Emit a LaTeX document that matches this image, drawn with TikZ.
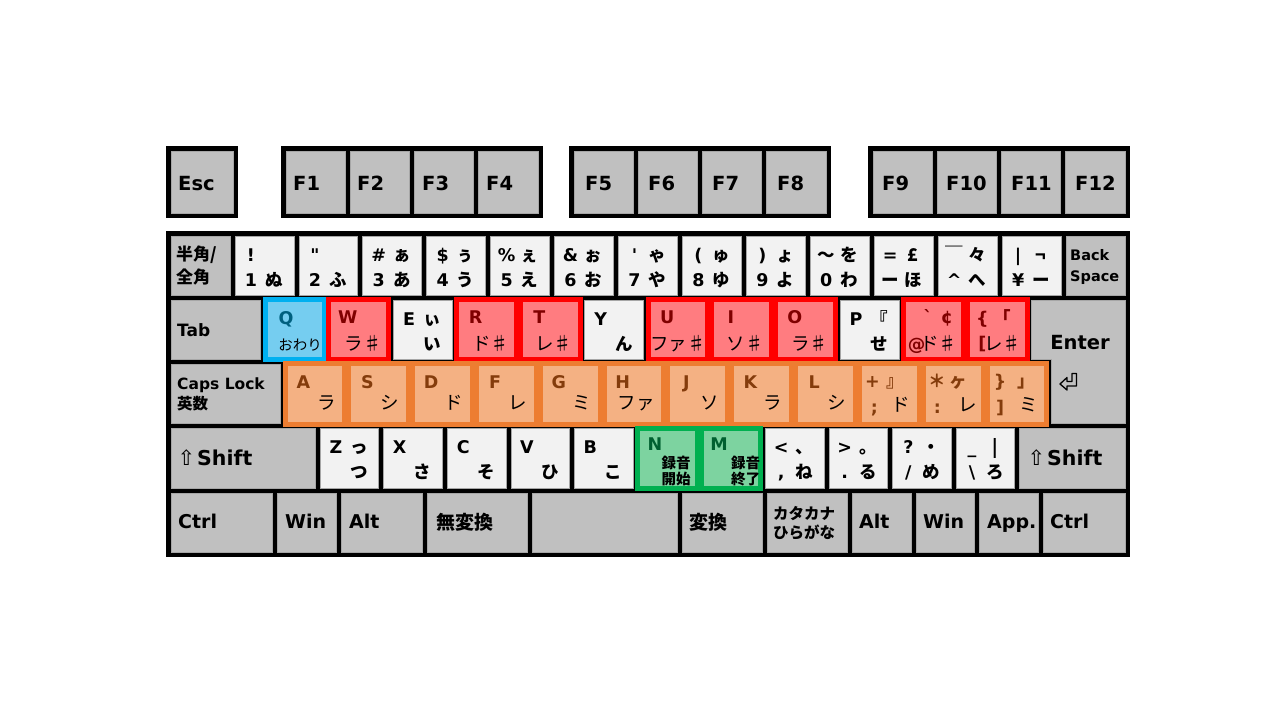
\documentclass[tikz,border=0pt]{standalone}
\usepackage{fontspec}
\setmainfont{DejaVu Sans}
\newfontfamily\lat{DejaVu Sans}
\newfontfamily\jp{Noto Sans CJK JP}
\usetikzlibrary{calc}
\definecolor{kgray}{HTML}{C0C0C0}
\definecolor{kwhite}{HTML}{F2F2F2}
\definecolor{kedge}{HTML}{A6A6A6}
\definecolor{rfill}{HTML}{FF7C80}
\definecolor{rline}{HTML}{FF0000}
\definecolor{rtext}{HTML}{800000}
\definecolor{bfill}{HTML}{75CDF0}
\definecolor{bline}{HTML}{00B0F0}
\definecolor{btext}{HTML}{00607F}
\definecolor{ofill}{HTML}{F4B183}
\definecolor{oline}{HTML}{ED7D31}
\definecolor{otext}{HTML}{843C0C}
\definecolor{gfill}{HTML}{7DD3A0}
\definecolor{gline}{HTML}{00B050}
\definecolor{gtext}{HTML}{006030}
\tikzset{
  keyb/.style={rectangle, anchor=north west, inner sep=0pt, outer sep=0pt, draw=kedge, line width=0.6pt, minimum height=59.2},
  ckey/.style={rectangle, anchor=north west, inner sep=0pt, outer sep=0pt, line width=5pt, minimum height=60.2},
  lbl/.style={inner sep=0pt, text height=13pt, text depth=0pt, font=\lat\bfseries\fontsize{17.5}{20}\selectfont},
  jl/.style={inner sep=0pt, text height=13pt, text depth=0pt, font=\jp\bfseries\fontsize{17.5}{20}\selectfont},
  kana/.style={inner sep=0pt, text height=13.7pt, text depth=0pt, font=\jp\fontsize{18.5}{20}\selectfont},
  big/.style={inner sep=0pt, text height=14.3pt, text depth=0pt, font=\lat\bfseries\fontsize{19.5}{22}\selectfont},
  sym/.style={inner sep=0pt, text height=14pt, text depth=0pt, font=\lat\fontsize{21}{22}\selectfont},
}
\newcommand\lb[6][lbl]{\node[#1] (#2#3) at ([shift={(#4,#5)}]#2.north west) {#6};}
\newcommand\four[5]{%
 \if\relax\detokenize{#2}\relax\else\lb{#1}{a}{16}{18.5}{#2}\fi
 \if\relax\detokenize{#3}\relax\else\lb[jl]{#1}{b}{39}{18.5}{#3}\fi
 \if\relax\detokenize{#4}\relax\else\lb{#1}{c}{16}{43.5}{#4}\fi
 \if\relax\detokenize{#5}\relax\else\lb[jl]{#1}{d}{39}{43.5}{#5}\fi}
\begin{document}
\begin{tikzpicture}[x=1pt,y=-1pt]
\useasboundingbox (0,0) rectangle (1280,720);
\fill[white] (0,0) rectangle (1280,720);
% frames
\fill[black] (166,146) rectangle (238,218);
\fill[black] (281,146) rectangle (543,218);
\fill[black] (569,146) rectangle (831,218);
\fill[black] (868,146) rectangle (1130,218);
\fill[black] (166,231) rectangle (1130,557);
% function row
\node[keyb, fill=kgray, minimum width=62, minimum height=62] (esc) at (171,151) {};
\foreach \g/\s in {281/0,569/4,868/8}{
  \foreach \j in {0,...,3}{
    \pgfmathtruncatemacro\nn{\s+\j+1}
    \node[keyb, fill=kgray, minimum width=59.25, minimum height=62] (f\nn) at ({\g+5+64.25*\j},151) {};
  }
}
\node[big, anchor=west] (escl) at (178,183) {Esc};
\foreach \nn/\xx in {1/293,2/357,3/422,4/486,5/585,6/648,7/712,8/777,9/882,10/946,11/1011,12/1075}{
  \node[big, anchor=west] (fl\nn) at (\xx,183) {F\nn};
}
% row 1
\foreach \k/\c in {0/kgray,1/kwhite,2/kwhite,3/kwhite,4/kwhite,5/kwhite,6/kwhite,7/kwhite,8/kwhite,9/kwhite,10/kwhite,11/kwhite,12/kwhite,13/kwhite,14/kgray}{
  \node[keyb, fill=\c, minimum width=58.93] (n\k) at ({168.5+63.93*\k+2.5},236) {};
}
% row 2 plain
\node[keyb, fill=kgray, minimum width=89.5] (tab) at (171,300.2) {};
\foreach \k in {2,5,9}{
  \node[keyb, fill=kwhite, minimum width=58.85] (q\k) at ({263+63.85*\k+2.5},300.2) {};
}
\path[fill=kgray, draw=kedge, line width=0.6pt] (1031.7,300.2) -- (1125,300.2) -- (1125,423.6) -- (1051.5,423.6) -- (1051.5,359.4) -- (1031.7,359.4) -- cycle;
% row 3 plain
\node[keyb, fill=kgray, minimum width=109.5] (caps) at (171,364.4) {};
% row 4 plain
\node[keyb, fill=kgray, minimum width=144] (lsh) at (171,428.6) {};
\foreach \k in {0,1,2,3,4,7,8,9,10}{
  \node[keyb, fill=kwhite, minimum width=58.6] (z\k) at ({317.5+63.6*\k+2.5},428.6) {};
}
\node[keyb, fill=kgray, minimum width=105.4] (rsh) at (1019.6,428.6) {};
% row 5
\foreach \k/\a/\b in {0/168.5/275,1/275/339,2/339/424.5,3/424.5/529.5,4/529.5/680,5/680/764.5,6/764.5/850,7/850/914,8/914/977,9/977/1040.5,10/1040.5/1127.5}{
  \node[keyb, fill=kgray, minimum width={\b-\a-5}] (b\k) at ({\a+2.5},492.8) {};
}
% coloured keys
\node[ckey, fill=bfill, draw=bline, minimum width=59.85] (q0) at (265,299.7) {};
\foreach \k in {1,3,4,6,7,8,10,11}{
  \node[ckey, fill=rfill, draw=rline, minimum width=59.85] (q\k) at ({263+63.85*\k+2},299.7) {};
}
\foreach \k in {0,...,11}{
  \node[ckey, fill=ofill, draw=oline, minimum width=59.83] (a\k) at ({285+63.83*\k},363.9) {};
}
\foreach \k in {5,6}{
  \node[ckey, fill=gfill, draw=gline, minimum width=59.6] (z\k) at ({319.5+63.6*\k},428.1) {};
}
% ---------- labels row 1
\node[inner sep=0pt, align=left, anchor=west, font=\jp\bfseries\fontsize{17}{23}\selectfont] (n0t) at (176,265.5) {半角/\\全角};
\four{n1}{!}{}{1}{ぬ}
\four{n2}{"}{}{2}{ふ}
\four{n3}{\#}{ぁ}{3}{あ}
\four{n4}{\$}{ぅ}{4}{う}
\four{n5}{\%}{ぇ}{5}{え}
\four{n6}{\&}{ぉ}{6}{お}
\four{n7}{'}{ゃ}{7}{や}
\four{n8}{(}{ゅ}{8}{ゆ}
\four{n9}{)}{ょ}{9}{よ}
\four{n10}{\jp 〜}{を}{0}{わ}
\four{n11}{=}{£}{\jp ー}{ほ}
\four{n12}{\jp ￣}{々}{\textasciicircum}{へ}
\four{n13}{|}{¬}{¥}{ー}
\node[inner sep=0pt, align=left, anchor=west, font=\lat\bfseries\fontsize{14.5}{21}\selectfont] (n14t) at (1070,266.5) {Back\\Space};
% ---------- labels row 2
\node[lbl, anchor=west, font=\lat\bfseries\fontsize{17}{20}\selectfont] (tabl) at (177,330) {Tab};
\lb[lbl,text=btext]{q0}{a}{21}{18}{Q}
\node[kana, text height=10.7pt, font=\jp\fontsize{14.5}{16}\selectfont] (q0d) at ([shift={(35,45)}]q0.north west) {おわり};
\foreach \k/\L/\K/\dx in {1/W/ラ♯/-7,3/R/ド♯/-7,4/T/レ♯/-8,6/U/ファ♯/-2,7/I/ソ♯/-8,8/O/ラ♯/-7}{
  \node[lbl, text=rtext] (q\k a) at ([shift={(19,17.5)}]q\k.north west) {\L};
  \node[kana, anchor=east] (q\k d) at ([shift={(\dx,43.5)}]q\k.north east) {\K};
}
\four{q2}{E}{ぃ}{}{い}
\four{q5}{Y}{}{}{ん}
\four{q9}{P}{『}{}{せ}
\lb[lbl,text=rtext]{q10}{a}{24.5}{17}{`}
\lb[lbl,text=rtext]{q10}{b}{43.5}{17}{¢}
\lb[lbl,text=rtext]{q10}{c}{13}{44}{@}
\node[kana, anchor=east] (q10d) at ([shift={(-6,43.5)}]q10.north east) {ド♯};
\lb[lbl,text=rtext]{q11}{a}{15}{18}{\{}
\lb[jl,text=rtext]{q11}{b}{35}{18}{「}
\lb[lbl,text=rtext]{q11}{c}{15}{43.5}{[}
\node[kana, anchor=east] (q11d) at ([shift={(-6,43.5)}]q11.north east) {レ♯};
\node[big] (entl) at (1080,342) {Enter};
% ---------- labels row 3
\node[inner sep=0pt, align=left, anchor=west, font=\lat\bfseries\fontsize{15.5}{20}\selectfont] (capsl) at (177,394) {Caps Lock\\{\jp 英数}};
\foreach \k/\L/\K in {0/A/ラ,1/S/シ,2/D/ド,3/F/レ,4/G/ミ,5/H/ファ,6/J/ソ,7/K/ラ,8/L/シ}{
  \node[lbl, text=otext] (a\k a) at ([shift={(18.5,18)}]a\k.north west) {\L};
  \node[kana, anchor=east] (a\k d) at ([shift={(-9,39)}]a\k.north east) {\K};
}
\lb[lbl,text=otext]{a9}{a}{13}{17}{+}
\lb[jl,text=otext]{a9}{b}{36}{17}{』}
\lb[lbl,text=otext]{a9}{c}{15}{43}{;}
\node[kana, anchor=east] (a9d) at ([shift={(-9,41)}]a9.north east) {ド};
\lb[jl,text=otext]{a10}{a}{14}{17}{＊}
\lb[jl,text=otext]{a10}{b}{35}{17}{ヶ}
\lb[lbl,text=otext]{a10}{c}{14}{43}{:}
\node[kana, anchor=east] (a10d) at ([shift={(-6,41)}]a10.north east) {レ};
\lb[lbl,text=otext]{a11}{a}{13}{17}{\}}
\lb[jl,text=otext]{a11}{b}{39}{17}{」}
\lb[lbl,text=otext]{a11}{c}{13}{43}{]}
\node[kana, anchor=east] (a11d) at ([shift={(-9,41)}]a11.north east) {ミ};
\draw[line width=1.3pt, line join=round] (1060,384) -- (1067,377.5) -- (1067,381.5) -- (1072,381.5) -- (1072,373.5) -- (1076.5,373.5) -- (1076.5,386) -- (1067,386) -- (1067,390) -- cycle;
% ---------- labels row 4
\node[sym] (lsha) at (186.5,458) {⇧};
\node[big, anchor=west, text height=15pt, font=\lat\bfseries\fontsize{20.5}{22}\selectfont] (lshl) at (197,458) {Shift};
\four{z0}{Z}{っ}{}{つ}
\four{z1}{X}{}{}{さ}
\four{z2}{C}{}{}{そ}
\four{z3}{V}{}{}{ひ}
\four{z4}{B}{}{}{こ}
\lb[lbl,text=gtext]{z5}{a}{17.5}{16}{N}
\node[inner sep=0pt, align=center, font=\jp\bfseries\fontsize{14.5}{16}\selectfont] (z5t) at ([shift={(-21,43)}]z5.north east) {録音\\開始};
\lb[lbl,text=gtext]{z6}{a}{18}{16}{M}
\node[inner sep=0pt, align=center, font=\jp\bfseries\fontsize{14.5}{16}\selectfont] (z6t) at ([shift={(-15,43)}]z6.north east) {録音\\終了};
\four{z7}{<}{、}{,}{ね}
\four{z8}{>}{。}{.}{る}
\four{z9}{?}{・}{/}{め}
\four{z10}{\_}{|}{\textbackslash}{ろ}
\node[sym] (rsha) at (1036.5,458) {⇧};
\node[big, anchor=west, text height=15pt, font=\lat\bfseries\fontsize{20.5}{22}\selectfont] (rshl) at (1047,458) {Shift};
% ---------- labels row 5
\node[big, anchor=west, text height=13.9pt, font=\lat\bfseries\fontsize{19}{22}\selectfont] (b0l) at (178,522) {Ctrl};
\node[big, anchor=west, text height=13.9pt, font=\lat\bfseries\fontsize{19}{22}\selectfont] (b1l) at (285,522) {Win};
\node[big, anchor=west, text height=13.9pt, font=\lat\bfseries\fontsize{19}{22}\selectfont] (b2l) at (349,522) {Alt};
\node[jl, anchor=west, text height=14pt, font=\jp\bfseries\fontsize{19}{22}\selectfont] (b3l) at (436,522) {無変換};
\node[jl, anchor=west, text height=14pt, font=\jp\bfseries\fontsize{19}{22}\selectfont] (b5l) at (689,522) {変換};
\node[inner sep=0pt, align=left, anchor=west, font=\jp\bfseries\fontsize{15.5}{19}\selectfont] (b6l) at (773,523.5) {カタカナ\\ひらがな};
\node[big, anchor=west, text height=13.9pt, font=\lat\bfseries\fontsize{19}{22}\selectfont] (b7l) at (859,522) {Alt};
\node[big, anchor=west, text height=13.9pt, font=\lat\bfseries\fontsize{19}{22}\selectfont] (b8l) at (923,522) {Win};
\node[big, anchor=west, text height=13.9pt, font=\lat\bfseries\fontsize{19}{22}\selectfont] (b9l) at (987,522) {App.};
\node[big, anchor=west, text height=13.9pt, font=\lat\bfseries\fontsize{19}{22}\selectfont] (b10l) at (1050,522) {Ctrl};
\end{tikzpicture}
\end{document}
